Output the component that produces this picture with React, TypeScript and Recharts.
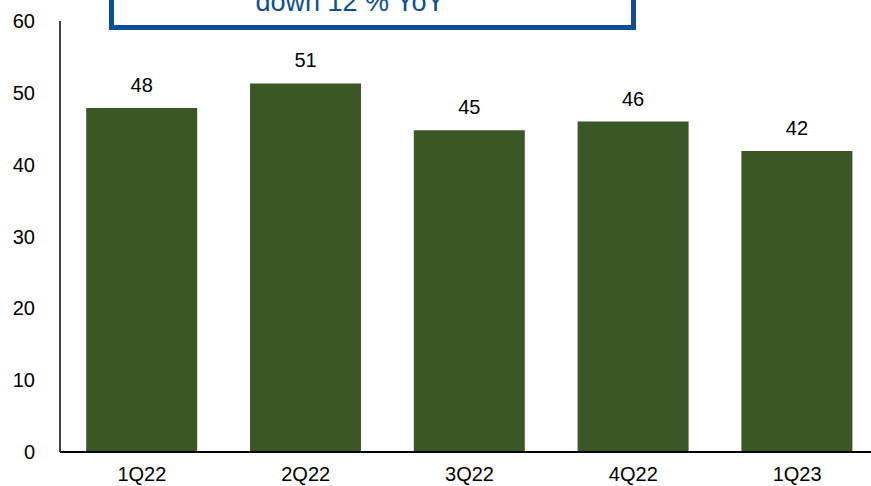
import React from "react";
import { BarChart, Bar, XAxis, YAxis, LabelList } from "recharts";

const quarters = ["1Q22", "2Q22", "3Q22", "4Q22", "1Q23"];
const values = [47.9, 51.3, 44.8, 46.0, 41.9];
const labels = ["48", "51", "45", "46", "42"];
const yTicks = [0, 10, 20, 30, 40, 50, 60];
const calloutText = "down 12 % YoY";

const data = quarters.map((q, i) => ({ q, v: values[i], label: labels[i] }));

const FONT = "'Liberation Sans', Arial, sans-serif";
const BLUE = "#0B4F96";

export default function App() {
  return (
    <div
      style={{
        position: "absolute",
        left: 0,
        top: 0,
        width: 871,
        height: 486,
        overflow: "hidden",
        background: "#fff",
      }}
    >
      <BarChart
        width={879}
        height={486}
        data={data}
        margin={{ top: 21, right: 0, bottom: 0, left: 0 }}
        barCategoryGap="16%"
      >
        <XAxis
          dataKey="q"
          axisLine={{ stroke: "#000", strokeWidth: 2 }}
          tickLine={false}
          tickSize={0}
          tickMargin={15}
          height={34}
          tick={{ fill: "#000", fontSize: 20, fontFamily: FONT }}
        />
        <YAxis
          domain={[0, 60]}
          ticks={yTicks}
          width={60}
          axisLine={{ stroke: "#000", strokeWidth: 1.5 }}
          tickLine={false}
          tickSize={0}
          tickMargin={25}
          tick={{ fill: "#000", fontSize: 20, fontFamily: FONT }}
        />
        <Bar dataKey="v" fill="#3B5725" isAnimationActive={false}>
          <LabelList
            dataKey="label"
            position="top"
            offset={16}
            style={{ fill: "#000", fontSize: 20, fontFamily: FONT }}
          />
        </Bar>
      </BarChart>
      <svg
        width={871}
        height={486}
        style={{ position: "absolute", left: 0, top: 0, pointerEvents: "none" }}
      >
        <rect x={111.5} y={-40} width={522} height={67.5} fill="#fff" stroke={BLUE} strokeWidth={5} />
        <text x={350} y={11} textAnchor="middle" fill={BLUE} fontSize={27} fontFamily={FONT}>
          {calloutText}
        </text>
      </svg>
    </div>
  );
}
